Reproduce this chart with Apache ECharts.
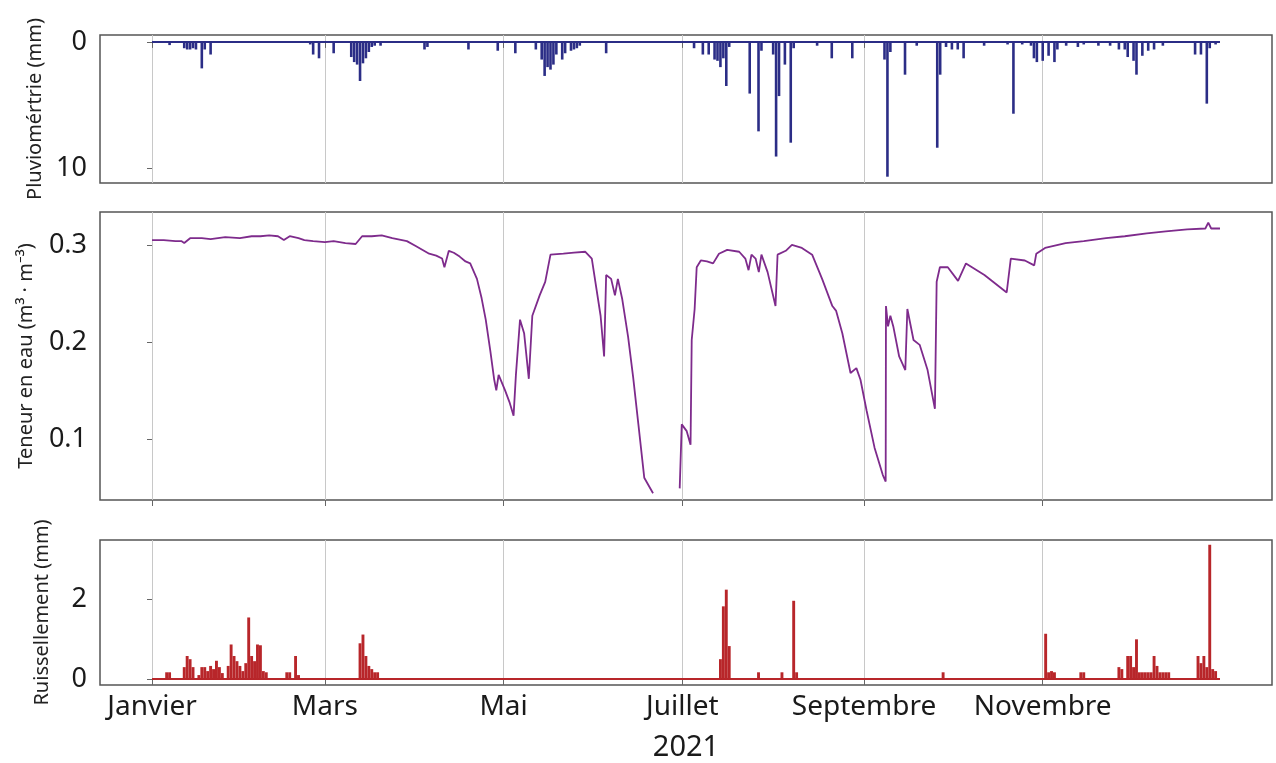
<!DOCTYPE html>
<html><head><meta charset="utf-8">
<script src="https://cdn.jsdelivr.net/npm/echarts@6/dist/echarts.min.js"></script>
<style>html,body{margin:0;padding:0;background:#fff}#c{width:1276px;height:763px}</style>
</head><body><div id="c"></div>
<script>
// x values are days since 1 January 2021
const monthTickDays = [0, 59, 120, 181, 243, 304];
const monthLabels = ['Janvier', 'Mars', 'Mai', 'Juillet', 'Septembre', 'Novembre'];
const yearLabel = '2021';
const dataStartDay = 0, dataEndDay = 364.5;

const rainTicks = [0, 10];
const soilTicks = [0.1, 0.2, 0.3];
const runoffTicks = [0, 2];

// Pluviométrie (mm) : [jour, mm]
const rain = [
  [6,0.25],[11,0.5],[12,0.6],[13,0.6],[14,0.5],[15,0.6],[17,2.1],[18,0.6],[20,1.0],
  [54,0.2],[55,1.0],[57,1.3],
  [62,0.9],[68,1.2],[69,1.6],[70,1.8],[71,3.1],[72,1.7],[73,1.3],[74,0.8],[75,0.4],[76,0.3],[78,0.3],
  [93,0.6],[94,0.4],[108,0.6],[118,0.7],
  [124,0.9],[131,0.6],[133,1.4],[134,2.7],[135,2.0],[136,2.2],[137,1.8],[138,1.0],[140,1.4],[141,0.9],
  [143,0.7],[144,0.6],[145,0.5],[146,0.3],[155,0.9],
  [185,0.5],[188,1.0],[190,1.0],[192,1.4],[193,1.5],[194,2.0],[195,1.3],[196,3.5],[197,0.4],
  [204,4.1],[207,7.1],[208,0.7],[212,1.0],[213,9.1],[214,4.3],[216,1.8],[218,8.0],[219,0.5],
  [227,0.3],[232,1.3],[239,1.3],
  [250,1.4],[251,10.7],[252,0.8],[257,2.6],[261,0.3],[268,8.4],[269,2.6],[271,0.4],
  [273,0.6],[275,0.6],[277,1.3],[284,0.3],[292,0.2],[294,5.7],[297,0.2],
  [300,0.3],[301,1.3],[302,1.6],[304,1.5],[306,1.1],[308,1.6],[309,0.6],[312,0.3],[316,0.4],[318,0.2],
  [323,0.3],[327,0.3],[330,0.6],[332,0.6],[333,1.2],[335,1.5],[336,2.6],[338,1.1],[340,0.7],[342,0.6],[345,0.3],
  [356,1.0],[358,1.0],[360,4.9],[361,0.5],[363,0.2]
];

// Teneur en eau (m3/m3) : [jour, valeur], deux périodes de mesure
const soilPart1 = [
  [0,0.305],[4,0.305],[8,0.304],[10,0.304],[11,0.302],[13,0.307],[17,0.307],[20,0.306],[25,0.308],
  [30,0.307],[34,0.309],[37,0.309],[40,0.31],[43,0.309],[45,0.305],[47,0.309],[50,0.307],
  [52,0.305],[55,0.304],[59,0.303],[62,0.304],[66,0.302],[69.5,0.301],[71.7,0.309],[75,0.309],
  [78.4,0.31],[82,0.307],[87,0.304],[90,0.299],[94.6,0.291],[97,0.289],
  [99,0.286],[99.8,0.277],[101.3,0.294],[103,0.292],[105,0.288],[107,0.283],[108.6,0.281],[110.9,0.265],
  [112.5,0.245],[113.9,0.223],[115.5,0.19],
  [116.8,0.161],[117.5,0.15],[118.3,0.166],[120.5,0.15],[122,0.138],[123.4,0.124],[124.2,0.166],[125.6,0.223],
  [127,0.209],[128.6,0.162],[129.8,0.227],[132.3,0.248],[134.2,0.262],[136,0.29],[140.4,0.291],
  [144,0.292],[147.9,0.293],[150.1,0.286],[153.1,0.227],[154.3,0.185],[155,0.269],[156.7,0.265],[158,0.248],
  [159,0.265],[160.5,0.244],[162.5,0.205],[164.2,0.164],[166,0.115],[168,0.06],[169.5,0.052],[171,0.044]
];
const soilPart2 = [
  [180.1,0.049],[180.8,0.115],[182.5,0.108],[183.8,0.094],[184.2,0.202],[185.2,0.234],[185.9,0.277],
  [187.3,0.284],[189.4,0.283],[191.5,0.281],[193.5,0.291],[196.3,0.295],[200.4,0.293],[202.5,0.286],
  [203.6,0.274],[204.6,0.29],[206,0.286],[207.1,0.272],[208,0.29],[210.1,0.272],[212.8,0.237],
  [213.5,0.29],[216.3,0.294],[218.4,0.3],[221.8,0.297],[225.3,0.29],[228.7,0.265],[232.2,0.237],
  [233.5,0.232],[235.6,0.209],[238.4,0.168],[240.4,0.173],[241.8,0.161],[243.9,0.129],[246.6,0.091],
  [249.4,0.063],[250.4,0.056],[250.5,0.237],[251.2,0.216],[252,0.227],[253,0.216],[255,0.185],
  [257.1,0.171],[257.8,0.234],[259.9,0.202],[262,0.197],[264.7,0.171],[267.2,0.131],[267.8,0.262],
  [268.9,0.277],[271.6,0.277],[275.1,0.263],[277.8,0.281],[284.1,0.269],[291.7,0.251],[293.1,0.286],
  [297.9,0.284],[301.1,0.279],[301.8,0.291],[304.8,0.297],[311.8,0.302],[318,0.304],[325.6,0.307],
  [332,0.309],[339.5,0.312],[346,0.314],[353.3,0.316],[359.5,0.317],[360.5,0.323],[361.5,0.317],[364.5,0.317]
];

// Ruissellement (mm) : [jour, mm]
const runoff = [
  [5,0.17],[6,0.17],[11,0.3],[12,0.58],[13,0.5],[14,0.3],[16,0.1],[17,0.3],[18,0.3],[19,0.2],
  [20,0.33],[21,0.25],[22,0.46],[23,0.3],[24,0.15],[26,0.33],[27,0.87],[28,0.58],[29,0.45],[30,0.33],
  [31,0.2],[32,0.4],[33,1.55],[34,0.58],[35,0.45],[36,0.87],[37,0.85],[38,0.2],[39,0.17],
  [46,0.17],[47,0.17],[49,0.58],[50,0.1],
  [71,0.9],[72,1.12],[73,0.58],[74,0.33],[75,0.25],[76,0.17],[77,0.17],
  [194,0.5],[195,1.83],[196,2.25],[197,0.83],[207,0.17],[215,0.17],[219,1.97],[220,0.17],[270,0.17],
  [305,1.14],[306,0.17],[307,0.2],[308,0.17],[317,0.17],[318,0.17],
  [330,0.3],[331,0.25],[333,0.58],[334,0.58],[335,0.3],[336,1.0],[337,0.17],[338,0.17],[339,0.17],
  [340,0.17],[341,0.17],[342,0.58],[343,0.33],[344,0.17],[345,0.17],[346,0.17],[347,0.17],
  [357,0.58],[358,0.4],[359,0.58],[360,0.3],[361,3.38],[362,0.25],[363,0.2]
];

const FONT = 'Noto Sans';
const BLUE = '#2b2d86', PURPLE = '#7e2b8c', RED = '#b8262a';
const baseline = [[dataStartDay, 0], [dataEndDay, 0]];
const GRID_LEFT = 100;

function xAxisFor(i, last) {
  return {
    type: 'value', gridIndex: i, min: -17.75, max: 382.25,
    axisLine: {show: false},
    axisTick: {show: true, customValues: monthTickDays, length: 6, lineStyle: {color: '#666'}},
    axisLabel: last ? {show: true, customValues: monthTickDays, margin: 8,
      formatter: v => monthLabels[monthTickDays.indexOf(v)] || '',
      fontFamily: FONT, fontSize: 28, color: '#1a1a1a'} : {show: false, customValues: monthTickDays},
    splitLine: {show: true, lineStyle: {color: '#c8c8c8', width: 1}},
    name: last ? yearLabel : '', nameLocation: 'middle', nameGap: 48,
    nameTextStyle: {fontFamily: FONT, fontSize: 29, color: '#1a1a1a'}
  };
}
function yAxisFor(i, opt) {
  return Object.assign({
    type: 'value', gridIndex: i,
    axisLine: {show: false},
    axisTick: {show: true, customValues: opt.ticks, length: 5, lineStyle: {color: '#666'}},
    axisLabel: {customValues: opt.ticks, margin: 13, fontFamily: FONT, fontSize: 27, color: '#1a1a1a'},
    splitLine: {show: false},
    nameLocation: 'middle', nameRotate: 90,
    nameTextStyle: {fontFamily: FONT, fontSize: 20, color: '#222'}
  }, opt.extra);
}

const chart = echarts.init(document.getElementById('c'), null, {renderer: 'canvas'});
chart.setOption({
  backgroundColor: '#ffffff',
  animation: false,
  grid: [
    {left: GRID_LEFT, right: 4, top: 35, height: 148, show: true, borderColor: '#555', borderWidth: 1.5, backgroundColor: 'transparent'},
    {left: GRID_LEFT, right: 4, top: 212, height: 288, show: true, borderColor: '#555', borderWidth: 1.5, backgroundColor: 'transparent'},
    {left: GRID_LEFT, right: 4, top: 540, height: 146, show: true, borderColor: '#555', borderWidth: 1.5, backgroundColor: 'transparent'}
  ],
  xAxis: [xAxisFor(0, false), xAxisFor(1, false), xAxisFor(2, true)],
  yAxis: [
    yAxisFor(0, {ticks: rainTicks, extra: {inverse: true, min: -0.55, max: 11.2, name: 'Pluviomértrie (mm)', nameGap: 54}}),
    yAxisFor(1, {ticks: soilTicks, extra: {min: 0.037, max: 0.334, name: 'Teneur en eau (m³ · m⁻³)', nameGap: 64,
      axisLabel: {customValues: soilTicks, margin: 13, fontFamily: FONT, fontSize: 27, color: '#1a1a1a', formatter: v => String(Math.round(v * 10) / 10)}}}),
    yAxisFor(2, {ticks: runoffTicks, extra: {min: -0.15, max: 3.5, name: 'Ruissellement (mm)', nameGap: 48}})
  ],
  series: [
    {type: 'line', xAxisIndex: 0, yAxisIndex: 0, data: baseline, showSymbol: false, lineStyle: {color: BLUE, width: 2}, z: 3},
    {type: 'bar', xAxisIndex: 0, yAxisIndex: 0, data: rain, barWidth: 2.6, itemStyle: {color: BLUE}, z: 4},
    {type: 'line', xAxisIndex: 1, yAxisIndex: 1, data: soilPart1, showSymbol: false, lineStyle: {color: PURPLE, width: 1.8}},
    {type: 'line', xAxisIndex: 1, yAxisIndex: 1, data: soilPart2, showSymbol: false, lineStyle: {color: PURPLE, width: 1.8}},
    {type: 'line', xAxisIndex: 2, yAxisIndex: 2, data: baseline, showSymbol: false, lineStyle: {color: RED, width: 2}, z: 3},
    {type: 'bar', xAxisIndex: 2, yAxisIndex: 2, data: runoff, barWidth: 2.9, itemStyle: {color: RED}, z: 4}
  ]
});
</script></body></html>
